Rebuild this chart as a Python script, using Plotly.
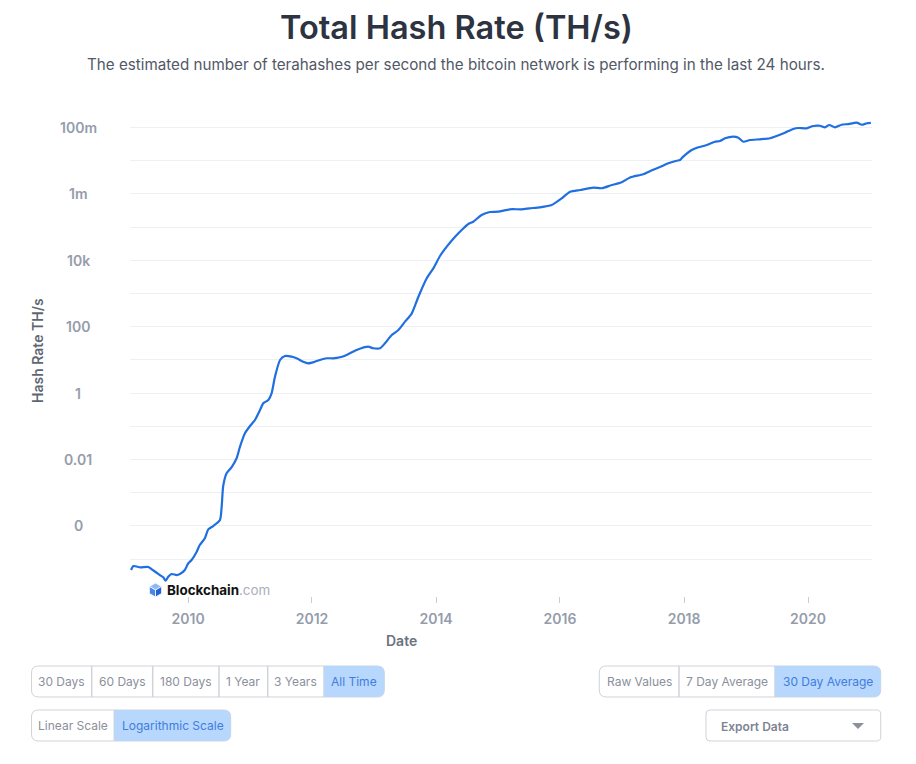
import plotly.graph_objects as go

# ---------------- data ----------------
dates = [
    "2009-01-30", "2009-02-13", "2009-03-25", "2009-05-12", "2009-06-01", "2009-06-30",
    "2009-07-19", "2009-08-08", "2009-08-22", "2009-09-06", "2009-09-26", "2009-10-26",
    "2009-11-14", "2009-12-13", "2010-01-02", "2010-01-22", "2010-02-21", "2010-03-11",
    "2010-04-10", "2010-04-30", "2010-05-29", "2010-07-08", "2010-07-18", "2010-07-27",
    "2010-08-16", "2010-09-15", "2010-10-14", "2010-11-03", "2010-12-02", "2011-01-01",
    "2011-01-30", "2011-03-01", "2011-03-20", "2011-04-19", "2011-05-08", "2011-05-28",
    "2011-06-27", "2011-07-26", "2011-09-03", "2011-10-02", "2011-11-10", "2011-12-09",
    "2012-01-18", "2012-02-17", "2012-03-27", "2012-05-05", "2012-06-14", "2012-07-23",
    "2012-09-20", "2012-11-27", "2012-12-27", "2013-02-05", "2013-03-06", "2013-04-15",
    "2013-05-24", "2013-07-02", "2013-08-11", "2013-09-19", "2013-11-07", "2013-12-16",
    "2014-01-25", "2014-03-05", "2014-04-23", "2014-06-01", "2014-07-10", "2014-08-08",
    "2014-09-26", "2014-11-14", "2015-01-02", "2015-03-11", "2015-05-19", "2015-07-07",
    "2015-09-05", "2015-11-13", "2016-01-11", "2016-03-01", "2016-04-29", "2016-07-16",
    "2016-09-03", "2016-11-01", "2016-12-26", "2017-02-17", "2017-05-05", "2017-06-29",
    "2017-08-12", "2017-09-30", "2017-11-18", "2017-12-08", "2017-12-27", "2018-02-15",
    "2018-03-26", "2018-05-15", "2018-07-02", "2018-07-31", "2018-08-30", "2018-10-18",
    "2018-11-17", "2018-12-16", "2019-01-24", "2019-03-24", "2019-05-22", "2019-06-30",
    "2019-08-18", "2019-10-06", "2019-11-05", "2019-12-24", "2020-02-01", "2020-03-11",
    "2020-04-10", "2020-05-05", "2020-06-08", "2020-07-17", "2020-08-26", "2020-10-14",
    "2020-11-13", "2020-12-13", "2021-01-05",
]
hash_rate = [
    4.7e-6, 6.2e-6, 5.66e-6, 5.78e-6, 4.93e-6, 3.89e-6,
    3.32e-6, 2.83e-6, 2.23e-6, 2.95e-6, 3.56e-6, 3.32e-6,
    3.56e-6, 4.7e-6, 7.47e-6, 9.4e-6, 1.67e-5, 2.66e-5,
    4.24e-5, 7.9e-5, 9.9e-5, 1.51e-4, 3.79e-4, 1.59e-3,
    3.84e-3, 5.94e-3, 0.0109, 0.0243, 0.0615, 0.102,
    0.155, 0.31, 0.493, 0.62, 0.986, 3.12,
    9.93, 13.1, 12.5, 11.2, 8.83, 7.9,
    8.83, 9.93, 11.2, 11.2, 12.0, 14.1,
    19.9, 25.0, 22.4, 22.4, 31.6, 56.2,
    79.6, 142, 253, 801, 2870, 5740,
    13700, 25700, 51400, 81800, 124000, 145000,
    231000, 285000, 291000, 344000, 344000, 368000,
    395000, 463000, 737000, 1.16e6, 1.31e6, 1.54e6,
    1.48e6, 1.85e6, 2.2e6, 3.12e6, 3.92e6, 5.25e6,
    6.46e6, 8.35e6, 1.0e7, 1.05e7, 1.32e7, 2.1e7,
    2.53e7, 2.97e7, 3.73e7, 3.92e7, 4.73e7, 5.28e7,
    4.93e7, 3.73e7, 4.2e7, 4.41e7, 4.73e7, 5.55e7,
    6.97e7, 9.01e7, 9.66e7, 9.46e7, 1.11e8, 1.13e8,
    1.01e8, 1.19e8, 1.01e8, 1.21e8, 1.27e8, 1.40e8,
    1.21e8, 1.34e8, 1.37e8,
]

y_grid_vals = [1e-5, 1e-4, 1e-3, 1e-2, 1e-1, 1, 10, 100, 1e3, 1e4, 1e5, 1e6, 1e7, 1e8]
y_label_vals = [1e8, 1e6, 1e4, 100, 1, 0.01, 1e-4]
y_label_text = ["100m", "1m", "10k", "100", "1", "0.01", "0"]

x_tick_vals = ["2010-01-01", "2012-01-01", "2014-01-01", "2016-01-01", "2018-01-01", "2020-01-01"]
x_tick_text = ["2010", "2012", "2014", "2016", "2018", "2020"]

title_text = "Total Hash Rate (TH/s)"
subtitle_text = ("The estimated number of terahashes per second the bitcoin network "
                 "is performing in the last 24 hours.")

range_buttons = ["30 Days", "60 Days", "180 Days", "1 Year", "3 Years", "All Time"]
scale_buttons = ["Linear Scale", "Logarithmic Scale"]
avg_buttons = ["Raw Values", "7 Day Average", "30 Day Average"]

# ---------------- layout geometry (pixels) ----------------
import math

W_PX, H_PX = 916, 764
L, R, T, B = 130, 872, 109, 596          # paper area
PW, PH = R - L, B - T
FONT = "Inter, 'Open Sans', sans-serif"


def px(x):
    return (x - L) / PW


def py(y):
    return (B - y) / PH


fig = go.Figure()
fig.add_trace(go.Scatter(
    x=dates, y=hash_rate, mode="lines",
    line=dict(color="#1f6fe0", width=2.2, shape="spline", smoothing=0.6),
    hoverinfo="x+y", showlegend=False,
))

fig.update_layout(
    width=W_PX, height=H_PX,
    margin=dict(l=L, r=W_PX - R, t=T, b=H_PX - B, pad=0),
    paper_bgcolor="white", plot_bgcolor="white",
    font=dict(family=FONT),
    xaxis=dict(
        type="date", range=["2009-01-24", "2021-01-12"],
        anchor="free", position=0,
        tickvals=x_tick_vals, ticktext=x_tick_text,
        ticks="outside", ticklen=6, tickcolor="#c9cdd5", tickwidth=1,
        tickfont=dict(size=14, color="#959cab", family=FONT, weight=600),
        showgrid=False, showline=False, zeroline=False,
        ticklabelstandoff=4,
    ),
    yaxis=dict(
        type="log", range=[-5.96, 8.557],
        domain=[(B - 591) / PH, 1],
        tickvals=y_grid_vals, showticklabels=False,
        showgrid=True, gridcolor="#eef0f3", gridwidth=1,
        zeroline=False, showline=False, ticks="",
    ),
)

ann = []
# y tick labels (centered, as in the reference)
for v, t in zip(y_label_vals, y_label_text):
    ann.append(dict(x=px(78), xref="paper", y=math.log10(v), yref="y",
                    text=t, showarrow=False, xanchor="center", yanchor="middle",
                    font=dict(size=14, color="#959cab", family=FONT, weight=600)))

# titles
ann.append(dict(x=px(456), y=py(27), xref="paper", yref="paper", text=title_text,
                showarrow=False, xanchor="center", yanchor="middle",
                font=dict(size=32.5, color="#2d3340", family=FONT, weight=600)))
ann.append(dict(x=px(456), y=py(64), xref="paper", yref="paper", text=subtitle_text,
                showarrow=False, xanchor="center", yanchor="middle",
                font=dict(size=15.2, color="#525866", family=FONT)))
ann.append(dict(x=px(37), y=py(351), xref="paper", yref="paper", text="Hash Rate TH/s",
                textangle=-90, showarrow=False, xanchor="center", yanchor="middle",
                font=dict(size=14, color="#5f6673", family=FONT, weight=600)))
ann.append(dict(x=px(401), y=py(640), xref="paper", yref="paper", text="Date",
                showarrow=False, xanchor="center", yanchor="middle",
                font=dict(size=14, color="#6b7280", family=FONT, weight=600)))

# watermark
ann.append(dict(x=px(165), y=py(590), xref="paper", yref="paper",
                text="<b>Blockchain</b><span style='color:#a9aeb9'>.com</span>",
                showarrow=False, xanchor="left", yanchor="middle",
                font=dict(size=13.4, color="#111111", family=FONT)))

shapes = []


def path_from(points, close=True):
    s = ""
    for i, (x, y) in enumerate(points):
        s += ("M" if i == 0 else "L") + f"{px(x):.5f},{py(y):.5f}"
    return s + ("Z" if close else "")


def rr_path(x0, y0, x1, y1, r_tl, r_tr, r_br, r_bl):
    def P(x, y):
        return f"{px(x):.5f},{py(y):.5f}"
    s = f"M{P(x0 + r_tl, y0)}L{P(x1 - r_tr, y0)}"
    s += f"Q{P(x1, y0)} {P(x1, y0 + r_tr)}" if r_tr else ""
    s += f"L{P(x1, y1 - r_br)}"
    s += f"Q{P(x1, y1)} {P(x1 - r_br, y1)}" if r_br else ""
    s += f"L{P(x0 + r_bl, y1)}"
    s += f"Q{P(x0, y1)} {P(x0, y1 - r_bl)}" if r_bl else ""
    s += f"L{P(x0, y0 + r_tl)}"
    s += f"Q{P(x0, y0)} {P(x0 + r_tl, y0)}" if r_tl else ""
    return s + "Z"


BORDER = "#cfd3da"
ACTIVE_BG = "#b8d7fc"
ACTIVE_TXT = "#3f7de0"
IDLE_TXT = "#8b909c"


def button_group(edges, y0, y1, labels, active, r=7):
    x0, x1 = edges[0], edges[-1]
    shapes.append(dict(type="path", xref="paper", yref="paper",
                       path=rr_path(x0, y0, x1, y1, r, r, r, r),
                       line=dict(color=BORDER, width=1), fillcolor="white", layer="above"))
    for xd in edges[1:-1]:
        shapes.append(dict(type="line", xref="paper", yref="paper",
                           x0=px(xd), x1=px(xd), y0=py(y0), y1=py(y1),
                           line=dict(color=BORDER, width=1.5), layer="above"))
    a0, a1 = edges[active], edges[active + 1]
    first = active == 0
    last = active == len(labels) - 1
    shapes.append(dict(type="path", xref="paper", yref="paper",
                       path=rr_path(a0, y0, a1, y1,
                                    r if first else 0, r if last else 0,
                                    r if last else 0, r if first else 0),
                       line=dict(width=0), fillcolor=ACTIVE_BG, layer="above"))
    for i, lab in enumerate(labels):
        cx = (edges[i] + edges[i + 1]) / 2
        ann.append(dict(x=px(cx), y=py((y0 + y1) / 2), xref="paper", yref="paper",
                        text=lab, showarrow=False, xanchor="center", yanchor="middle",
                        font=dict(size=12, family=FONT,
                                  color=ACTIVE_TXT if i == active else IDLE_TXT)))


button_group([31.5, 91.7, 152.7, 219, 267.7, 324, 384.3], 666, 697, range_buttons, 5)
button_group([31.5, 114.3, 230.7], 710, 741, scale_buttons, 1)
button_group([599.3, 679, 775, 880.7], 666, 697, avg_buttons, 2)

# export data box
shapes.append(dict(type="path", xref="paper", yref="paper",
                   path=rr_path(706, 710, 880.7, 741, 4, 4, 4, 4),
                   line=dict(color=BORDER, width=1), fillcolor="white", layer="above"))
ann.append(dict(x=px(719), y=py(726), xref="paper", yref="paper", text="Export Data",
                showarrow=False, xanchor="left", yanchor="middle",
                font=dict(size=12, color="#7d8493", family=FONT, weight=600)))
shapes.append(dict(type="path", xref="paper", yref="paper",
                   path=path_from([(852, 723), (864, 723), (858, 729)]),
                   line=dict(width=0), fillcolor="#8a909c", layer="above"))

# blockchain cube logo
cx, cy, rad = 155.5, 590, 7
top = (cx, cy - rad)
ur = (cx + 6.1, cy - rad / 2)
lr = (cx + 6.1, cy + rad / 2)
bot = (cx, cy + rad)
ll = (cx - 6.1, cy + rad / 2)
ul = (cx - 6.1, cy - rad / 2)
ctr = (cx, cy)
for pts, col in [([top, ur, ctr, ul], "#8db9f4"),
                 ([ul, ctr, bot, ll], "#4a86ea"),
                 ([ctr, ur, lr, bot], "#2262d4")]:
    shapes.append(dict(type="path", xref="paper", yref="paper", path=path_from(pts),
                       line=dict(color="white", width=0.8), fillcolor=col, layer="above"))

fig.update_layout(annotations=ann, shapes=shapes)
fig.write_html("out.html")
